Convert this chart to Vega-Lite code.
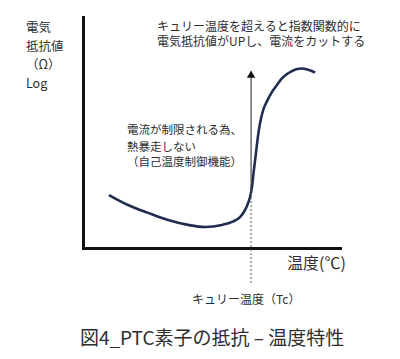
{
  "$schema": "https://vega.github.io/schema/vega-lite/v6.json",
  "autosize": {"type": "none"},
  "padding": {"left": 83, "top": 17, "right": 60, "bottom": 111},
  "width": 257,
  "height": 231,
  "background": "white",
  "config": {
    "view": {"stroke": null},
    "axis": {"grid": false, "ticks": false, "labels": false, "title": null, "domainColor": "#111111", "domainWidth": 3, "domainCap": "square"},
    "text": {"font": "Noto Sans CJK JP", "color": "#2e2e2e", "align": "left", "baseline": "middle"}
  },
  "datasets": {
    "curve": [
      {"t": 10.1, "r": 22.9}, {"t": 17.5, "r": 18.6}, {"t": 25.3, "r": 15.2}, {"t": 33.1, "r": 12.1},
      {"t": 40.9, "r": 10.0}, {"t": 47.5, "r": 9.1}, {"t": 54.1, "r": 10.0}, {"t": 58.0, "r": 11.3},
      {"t": 61.1, "r": 13.4}, {"t": 62.6, "r": 15.6}, {"t": 63.8, "r": 18.2}, {"t": 65.0, "r": 22.1},
      {"t": 65.8, "r": 26.8}, {"t": 66.5, "r": 33.8}, {"t": 67.3, "r": 41.1}, {"t": 68.1, "r": 48.5},
      {"t": 68.9, "r": 54.1}, {"t": 70.0, "r": 59.3}, {"t": 71.6, "r": 63.6}, {"t": 73.5, "r": 67.5},
      {"t": 75.5, "r": 70.6}, {"t": 77.4, "r": 73.4}, {"t": 79.4, "r": 75.3}, {"t": 81.3, "r": 76.6},
      {"t": 83.3, "r": 77.5}, {"t": 85.2, "r": 77.7}, {"t": 87.2, "r": 77.3}, {"t": 90.3, "r": 76.0}
    ]
  },
  "layer": [
    {
      "data": {"name": "curve"},
      "mark": {"type": "line", "interpolate": "monotone", "color": "#1f2d4f", "strokeWidth": 2.6},
      "encoding": {
        "x": {"field": "t", "type": "quantitative", "scale": {"domain": [0, 100], "nice": false, "zero": false}, "axis": {"orient": "bottom"}},
        "y": {"field": "r", "type": "quantitative", "scale": {"domain": [0, 100], "nice": false, "zero": false}, "axis": {"orient": "left"}}
      }
    },
    {
      "data": {"values": [{"t": 65.4, "r": 24.2, "r2": 74.0}]},
      "mark": {"type": "rule", "color": "#444444", "strokeWidth": 1.2},
      "encoding": {
        "x": {"field": "t", "type": "quantitative"},
        "y": {"field": "r", "type": "quantitative"},
        "y2": {"field": "r2"}
      }
    },
    {
      "data": {"values": [{"t": 65.4, "r": -15.2, "r2": 24.2}]},
      "mark": {"type": "rule", "color": "#555555", "strokeWidth": 1, "strokeDash": [2, 2]},
      "encoding": {
        "x": {"field": "t", "type": "quantitative"},
        "y": {"field": "r", "type": "quantitative"},
        "y2": {"field": "r2"}
      }
    },
    {
      "data": {"values": [{"t": 65.4, "r": 75.3}]},
      "mark": {"type": "point", "shape": "triangle-up", "filled": true, "color": "#111111", "size": 70, "opacity": 1},
      "encoding": {
        "x": {"field": "t", "type": "quantitative"},
        "y": {"field": "r", "type": "quantitative"}
      }
    },
    {
      "data": {"values": [
        {"label": "電気", "t": -22.2, "r": 95.2},
        {"label": "抵抗値", "t": -22.2, "r": 87.2},
        {"label": "（Ω）", "t": -22.2, "r": 79.2},
        {"label": "Log", "t": -22.2, "r": 71.2}
      ]},
      "mark": {"type": "text", "fontSize": 12.5},
      "encoding": {
        "x": {"field": "t", "type": "quantitative"},
        "y": {"field": "r", "type": "quantitative"},
        "text": {"field": "label"}
      }
    },
    {
      "data": {"values": [
        {"label": "キュリー温度を超えると指数関数的に", "t": 28.8, "r": 95.7},
        {"label": "電気抵抗値がUPし、電流をカットする", "t": 28.8, "r": 89.0}
      ]},
      "mark": {"type": "text", "fontSize": 12},
      "encoding": {
        "x": {"field": "t", "type": "quantitative"},
        "y": {"field": "r", "type": "quantitative"},
        "text": {"field": "label"}
      }
    },
    {
      "data": {"values": [
        {"label": "電流が制限される為、", "t": 17.1, "r": 50.6},
        {"label": "熱暴走しない", "t": 17.1, "r": 43.5},
        {"label": "（自己温度制御機能）", "t": 17.1, "r": 37.0}
      ]},
      "mark": {"type": "text", "fontSize": 11.5},
      "encoding": {
        "x": {"field": "t", "type": "quantitative"},
        "y": {"field": "r", "type": "quantitative"},
        "text": {"field": "label"}
      }
    },
    {
      "data": {"values": [{"label": "温度(℃)", "t": 79.4, "r": -7.1}]},
      "mark": {"type": "text", "fontSize": 16},
      "encoding": {
        "x": {"field": "t", "type": "quantitative"},
        "y": {"field": "r", "type": "quantitative"},
        "text": {"field": "label"}
      }
    },
    {
      "data": {"values": [{"label": "キュリー温度（Tc）", "t": 42.4, "r": -22.5}]},
      "mark": {"type": "text", "fontSize": 12},
      "encoding": {
        "x": {"field": "t", "type": "quantitative"},
        "y": {"field": "r", "type": "quantitative"},
        "text": {"field": "label"}
      }
    },
    {
      "data": {"values": [{"label": "図4_PTC素子の抵抗 – 温度特性", "t": -1.2, "r": -39.4}]},
      "mark": {"type": "text", "fontSize": 19},
      "encoding": {
        "x": {"field": "t", "type": "quantitative"},
        "y": {"field": "r", "type": "quantitative"},
        "text": {"field": "label"}
      }
    }
  ]
}
